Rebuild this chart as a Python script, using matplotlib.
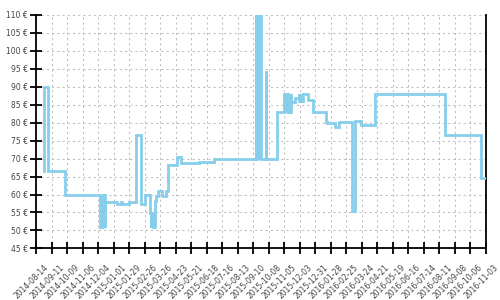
import pandas as pd
import matplotlib
matplotlib.use("Agg")
import matplotlib.pyplot as plt
import matplotlib.transforms as mtransforms

# Price history (step changes)
dates = [
    "2014-08-28", "2014-08-28", "2014-09-05", "2014-10-05",
    "2014-12-08", "2014-12-09", "2014-12-10", "2014-12-11", "2014-12-12",
    "2014-12-13", "2014-12-14", "2014-12-15", "2014-12-16", "2014-12-17",
    "2015-01-08", "2015-01-15", "2015-01-17", "2015-01-29", "2015-02-10",
    "2015-02-11", "2015-02-20", "2015-02-26", "2015-03-08", "2015-03-09",
    "2015-03-10", "2015-03-11", "2015-03-12", "2015-03-13", "2015-03-16",
    "2015-03-19", "2015-03-22", "2015-03-30", "2015-04-05", "2015-04-09",
    "2015-04-26", "2015-05-03", "2015-06-05", "2015-07-01",
    "2015-09-15", "2015-09-16", "2015-09-17", "2015-09-18", "2015-09-19",
    "2015-09-20", "2015-09-21", "2015-09-22", "2015-09-23", "2015-09-24",
    "2015-10-03", "2015-10-04", "2015-10-23", "2015-11-04",
    "2015-11-08", "2015-11-09", "2015-11-10", "2015-11-11", "2015-11-12",
    "2015-11-13", "2015-11-14", "2015-11-15", "2015-11-16", "2015-11-17",
    "2015-11-18", "2015-11-25",
    "2015-12-01", "2015-12-02", "2015-12-03", "2015-12-04", "2015-12-05",
    "2015-12-06", "2015-12-07", "2015-12-08", "2015-12-09", "2015-12-10",
    "2015-12-18", "2015-12-27", "2016-01-20", "2016-01-22", "2016-02-05",
    "2016-02-12", "2016-03-06", "2016-03-12", "2016-03-23", "2016-04-17",
    "2016-08-21", "2016-10-26", "2016-11-03",
]
prices = [
    66.5, 90.0, 66.5, 60.0,
    51.0, 60.0, 51.0, 60.0, 51.0,
    60.0, 51.0, 60.0, 51.0, 57.9,
    57.3, 57.9, 57.3, 57.9, 67.7,
    76.5, 57.3, 60.0, 54.8, 51.0,
    54.8, 51.0, 54.8, 51.0, 58.1,
    59.7, 60.9, 59.5, 60.9, 68.1,
    70.4, 68.7, 69.0, 70.0,
    112.0, 70.0, 112.0, 70.0, 112.0,
    70.0, 112.0, 70.0, 112.0, 70.0,
    94.5, 70.0, 83.1, 88.1,
    83.1, 88.1, 83.1, 88.1, 83.1,
    88.1, 83.1, 88.1, 83.1, 88.1,
    85.8, 86.8,
    88.1, 86.0, 88.1, 86.0, 88.1,
    86.0, 88.1, 86.0, 88.1, 88.1,
    86.3, 83.1, 80.3, 80.0, 78.8,
    80.3, 55.3, 80.6, 79.3, 88.1,
    76.7, 64.7, 64.7,
]

x_start = pd.Timestamp("2014-08-14")
x_end = pd.Timestamp("2016-11-03")
y_ticks = list(range(45, 111, 5))

df = pd.DataFrame({"date": pd.to_datetime(dates), "price": prices})

fig = plt.figure(figsize=(5, 3), dpi=100)
ax = fig.add_axes([0.072, 0.172, 0.8994, 0.778])

ax.step(df["date"], df["price"], where="post", color="#87ceeb", linewidth=2.0,
        solid_joinstyle="miter", zorder=3)

ax.set_xlim(x_start, x_end)
ax.set_ylim(45, 110)

xt = pd.date_range(x_start, x_end, freq="28D")
ax.set_xticks(xt)
ax.set_xticklabels([d.strftime("%Y-%m-%d") for d in xt], rotation=45,
                   ha="right", va="top", rotation_mode="anchor")

ax.set_yticks(y_ticks)
ax.set_yticklabels([f"{v} €" for v in y_ticks])

ax.tick_params(axis="both", direction="inout", length=8, width=1.3,
               labelsize=5.5, labelcolor="#444444", color="black")
ax.tick_params(axis="x", pad=3)
ax.tick_params(axis="y", pad=2)

# labels sit a bit right of their ticks (after tick_params, which resets transforms)
offset = mtransforms.ScaledTranslation(8 / 100, -5 / 100, fig.dpi_scale_trans)
for lbl in ax.get_xticklabels():
    lbl.set_transform(lbl.get_transform() + offset)

ax.grid(True, color="#bdbdbd", linestyle=(0, (2, 3)), linewidth=0.75, zorder=0)

ax.spines["top"].set_visible(False)
for s in ["left", "bottom", "right"]:
    ax.spines[s].set_linewidth(1.3)
    ax.spines[s].set_color("black")

plt.savefig("out.png", dpi=100)
